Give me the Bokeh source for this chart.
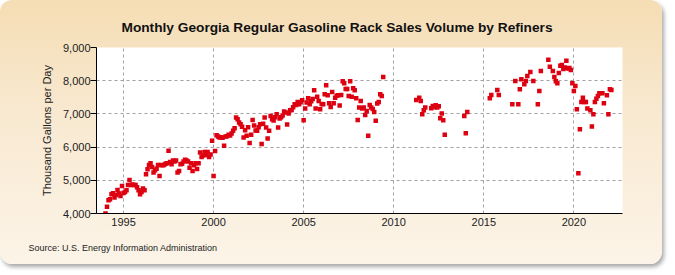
from bokeh.plotting import figure
from bokeh.models import FixedTicker, NumeralTickFormatter, Title, ColumnDataSource
from bokeh.embed import file_html
from bokeh.resources import INLINE

# Monthly values (thousand gallons per day), continuous from 1994-01 to 2009-06
start_year = 1994
values_1994_2009 = [
    4000, 4200, 4400, 4430, 4580, 4610, 4480, 4560, 4710, 4600, 4530, 4830,  # 1994
    4620, 4650, 4700, 4860, 5010, 4860, 4870, 4860, 4860, 4790, 4700, 4580,  # 1995
    4650, 4750, 4700, 5180, 5330, 5460, 5510, 5400, 5235, 5300, 5350, 5460,  # 1996
    5130, 5460, 5450, 5460, 5500, 5510, 5890, 5550, 5480, 5600, 5570, 5600,  # 1997
    5235, 5280, 5480, 5500, 5570, 5620, 5600, 5570, 5380, 5510, 5280, 5450,  # 1998
    5510, 5340, 5510, 5840, 5700, 5750, 5850, 5760, 5850, 5700, 5780, 6190,  # 1999
    5130, 5885, 6360, 6320, 6290, 6300, 6280, 6040, 6320, 6330, 6370, 6350,  # 2000
    6410, 6490, 6570, 6890, 6840, 6740, 6690, 6610, 6290, 6510, 6340, 6600,  # 2001
    6120, 6370, 6820, 6650, 6500, 6490, 6600, 6690, 6090, 6700, 6890, 6590,  # 2002
    6260, 6490, 6940, 6840, 6800, 6900, 6990, 6590, 6860, 6900, 6950, 7070,  # 2003
    7040, 6680, 7010, 7110, 7120, 7200, 7290, 7270, 7360, 7290, 7350, 7410,  # 2004
    6810, 7160, 7340, 7470, 7290, 7380, 7450, 7710, 7160, 7520, 7390, 7140,  # 2005
    7300, 7290, 7590, 7860, 7560, 7320, 7210, 7660, 7320, 7490, 7550, 7560,  # 2006
    7250, 7570, 7980, 7920, 7750, 7750, 7540, 7980, 7520, 7770, 7710, 7470,  # 2007
    6820, 7190, 7390, 7160, 7190, 6970, 7090, 6340, 7270, 7190, 7150, 7060,  # 2008
    6790, 7310, 7360, 7590, 7540, 8110,                                      # 2009
]

# Later, sparser months
later_months = [
    "2011-04", "2011-06", "2011-07", "2011-08", "2011-09", "2011-10",
    "2012-02", "2012-03", "2012-04", "2012-05", "2012-06", "2012-07", "2012-08",
    "2012-09", "2012-10", "2012-11",
    "2013-12", "2014-01", "2014-02",
    "2015-05", "2015-06", "2015-10", "2015-11",
    "2016-08", "2016-10", "2016-12",
    "2017-01", "2017-02", "2017-04", "2017-05", "2017-06", "2017-08", "2017-10",
    "2018-01", "2018-02", "2018-03", "2018-08", "2018-09", "2018-11", "2018-12",
    "2019-01", "2019-02", "2019-03", "2019-04", "2019-05", "2019-06", "2019-07",
    "2019-08", "2019-09", "2019-10", "2019-11", "2019-12",
    "2020-01", "2020-02", "2020-03", "2020-04", "2020-05", "2020-06", "2020-07",
    "2020-08", "2020-09", "2020-10", "2020-12",
    "2021-01", "2021-02", "2021-03", "2021-04", "2021-05", "2021-06", "2021-08",
    "2021-09", "2021-11", "2021-12",
    "2022-01", "2022-02",
]
later_values = [
    7420, 7490, 7390, 6990, 7110, 7190,
    7170, 7240, 7200, 7260, 7190, 7230, 6870,
    7010, 6810, 6370,
    6940, 6420, 7060,
    7470, 7570, 7720, 7570,
    7290, 7990, 7290,
    7740, 8040, 7890, 7990, 8140, 8260, 7990,
    7290, 7690, 8290, 8630, 8420, 8290, 8110,
    7980, 7920, 8230, 8450, 8470, 8350, 8400,
    8600, 8370, 8380, 8320, 7920,
    7690, 7840, 7140, 5210, 6540, 7360, 7490,
    7360, 7360, 7160, 7110,
    6620, 6990, 7360, 7460, 7540, 7620, 7620,
    7320, 7560, 6990,
    7740, 7720,
]

year_ticks = [1995, 2000, 2005, 2010, 2015, 2020]
value_ticks = [4000, 5000, 6000, 7000, 8000, 9000]

title_text = "Monthly Georgia Regular Gasoline Rack Sales Volume by Refiners"
y_label = "Thousand Gallons per Day"
source_text = "Source: U.S. Energy Information Administration"

# fractional year positions
xs = [start_year + i / 12 for i in range(len(values_1994_2009))]
for m in later_months:
    yy, mm = m.split("-")
    xs.append(int(yy) + (int(mm) - 1) / 12)
ys = values_1994_2009 + later_values
src = ColumnDataSource(data=dict(x=xs, y=ys))

FONT = "Liberation Sans"

p = figure(width=662, height=264, output_backend="svg", toolbar_location=None,
           x_range=(1993.5, 2022.7), y_range=(4000, 9000),
           min_border_left=96, min_border_right=40, min_border_top=47, min_border_bottom=50)
p.styles = {
    "background": "linear-gradient(to bottom, #F5DDB4 0%, #F8E8CF 40%, #FCF4E8 100%)",
    "border-radius": "12px",
    "box-shadow": "2px 3px 4px rgba(0,0,0,0.35)",
}
p.border_fill_color = None
p.background_fill_color = "white"
p.outline_line_color = None

p.title.text = title_text
p.title.align = "left"
p.title.offset = 25
p.title.standoff = 26
p.title.text_font = FONT
p.title.text_font_size = "13.7px"
p.title.text_font_style = "bold"
p.title.text_color = "#111111"

p.add_layout(Title(text=source_text, align="left", text_font=FONT, text_font_size="9px",
                   text_font_style="normal", text_color="#222222", offset=-68,
                   standoff=24), "below")

p.scatter("x", "y", source=src, marker="square", size=4.5, fill_color="#DD0011",
          line_color=None)

p.xaxis.ticker = FixedTicker(ticks=year_ticks)
p.yaxis.ticker = FixedTicker(ticks=value_ticks)
p.yaxis.formatter = NumeralTickFormatter(format="0,0")
p.xgrid.ticker = FixedTicker(ticks=year_ticks)
p.ygrid.ticker = FixedTicker(ticks=value_ticks)

for ax in (p.xaxis, p.yaxis):
    ax.axis_line_color = "black"
    ax.major_label_text_font = FONT
    ax.major_label_text_font_size = "11px"
    ax.major_label_text_color = "#222222"
    ax.minor_tick_line_color = None
    ax.major_tick_in = 0

p.xaxis.major_tick_out = 0
p.xaxis.major_label_standoff = 4
p.yaxis.major_tick_out = 6
p.yaxis.major_tick_line_color = "black"
p.yaxis.major_label_standoff = 0
p.yaxis.axis_label = y_label
p.yaxis.axis_label_text_font = FONT
p.yaxis.axis_label_text_font_size = "11px"
p.yaxis.axis_label_text_font_style = "normal"
p.yaxis.axis_label_text_color = "#222222"
p.yaxis.axis_label_standoff = 7

for g in (p.xgrid, p.ygrid):
    g.grid_line_color = "#A0A0A0"
    g.grid_line_dash = "3 3"
    g.grid_line_width = 1

open("out.html", "w").write(file_html(p, INLINE))
